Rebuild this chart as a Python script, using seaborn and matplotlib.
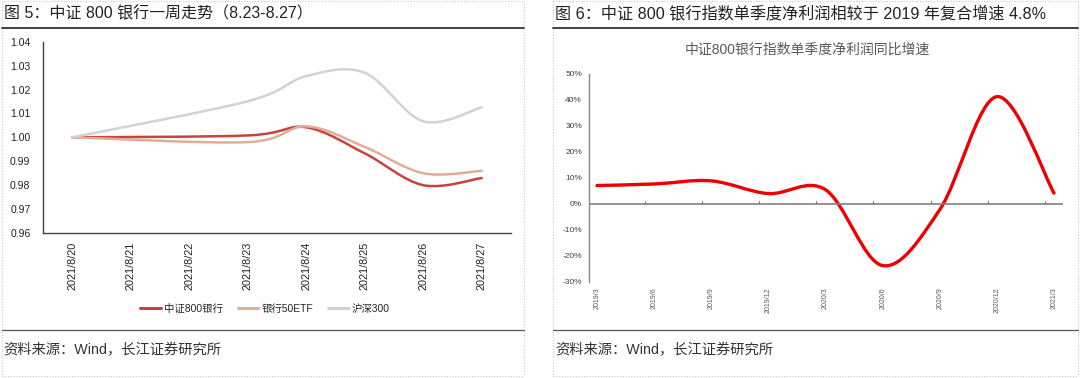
import numpy as np
import matplotlib
matplotlib.use("Agg")
import matplotlib.pyplot as plt
import seaborn as sns
from matplotlib.path import Path
from matplotlib.patches import PathPatch
from matplotlib.lines import Line2D

# ---- data: figure 5 (one-week trend, normalised) ----
axis_dates = ['2021/8/20', '2021/8/21', '2021/8/22', '2021/8/23',
              '2021/8/24', '2021/8/25', '2021/8/26', '2021/8/27']
trade_dates = ['2021/8/20', '2021/8/23', '2021/8/24', '2021/8/25', '2021/8/26', '2021/8/27']
csi800_bank = [1.000, 1.0008, 1.0042, 0.9933, 0.9800, 0.9830]
bank50_etf = [1.000, 0.9980, 1.0046, 0.9960, 0.9850, 0.9860]
hs300 = [1.000, 1.0151, 1.0256, 1.0270, 1.0067, 1.0126]
left_names = ['中证800银行', '银行50ETF', '沪深300']
left_colors = ['#C8423F', '#DFAE96', '#D3D1D1']

# ---- data: figure 6 (quarterly net profit yoy growth, %) ----
quarters = ['2019/3', '2019/6', '2019/9', '2019/12', '2020/3',
            '2020/6', '2020/9', '2020/12', '2021/3']
profit_yoy = [7.1, 7.7, 8.9, 4.0, 5.5, -23.7, -2.2, 41.3, 4.2]

title_left = '图 5：中证 800 银行一周走势（8.23-8.27）'
title_right = '图 6：中证 800 银行指数单季度净利润相较于 2019 年复合增速 4.8%'
inner_title = '中证800银行指数单季度净利润同比增速'
source_text = '资料来源：Wind，长江证券研究所'

sns.set_theme(style="white")
plt.rcParams['font.family'] = ['Liberation Sans', 'Noto Sans CJK SC', 'DejaVu Sans']


def smooth_path(xs, ys):
    # Excel-like smoothed line: cubic bezier through every data point
    pts = np.column_stack([xs, ys]).astype(float)
    n = len(pts)
    verts = [pts[0]]
    codes = [Path.MOVETO]
    for i in range(n - 1):
        p0 = pts[max(i - 1, 0)]
        p1 = pts[i]
        p2 = pts[i + 1]
        p3 = pts[min(i + 2, n - 1)]
        verts += [p1 + (p2 - p0) / 6, p2 - (p3 - p1) / 6, p2]
        codes += [Path.CURVE4] * 3
    return Path(verts, codes)


fig = plt.figure(figsize=(10.8, 3.78), dpi=100)
W, H = 1080, 378


def fx(px):
    return px / W


def fy(py):
    return 1 - py / H


# ---- frame decorations ----
dot = dict(color='#C8C8C8', lw=0.8, ls=(0, (1, 1.5)), transform=fig.transFigure)
for x0, x1 in [(2, 524), (553, 1078)]:
    fig.add_artist(Line2D([fx(x0), fx(x1)], [fy(1), fy(1)], **dot))
    fig.add_artist(Line2D([fx(x0), fx(x1)], [fy(376), fy(376)], **dot))
    fig.add_artist(Line2D([fx(x0), fx(x0)], [fy(1), fy(376)], **dot))
    fig.add_artist(Line2D([fx(x1), fx(x1)], [fy(1), fy(376)], **dot))
    fig.add_artist(Line2D([fx(x0), fx(x1)], [fy(27.5), fy(27.5)], color='#333333', lw=1.3,
                          transform=fig.transFigure))
    fig.add_artist(Line2D([fx(x0), fx(x1)], [fy(330), fy(330)], color='#555555', lw=0.9,
                          transform=fig.transFigure))

fig.text(fx(4), fy(13), title_left, fontsize=11.5, color='#222222', va='center', ha='left')
fig.text(fx(555), fy(13), title_right, fontsize=11.6, color='#222222', va='center', ha='left')
fig.text(fx(3), fy(350), source_text, fontsize=10.3, color='#333333', va='center', ha='left')
fig.text(fx(555), fy(350), source_text, fontsize=10.3, color='#333333', va='center', ha='left')

# ---- left chart ----
ax1 = fig.add_axes([fx(43), fy(233), fx(511 - 43), (233 - 41.7) / H])
xpos = [axis_dates.index(d) for d in trade_dates]
for vals, name, col in zip([csi800_bank, bank50_etf, hs300], left_names, left_colors):
    ax1.add_patch(PathPatch(smooth_path(xpos, vals), facecolor='none', edgecolor=col, lw=1.8,
                            capstyle='round', joinstyle='round'))
ax1.set_xlim(-0.5, 7.5)
ax1.set_ylim(0.96, 1.04)
ax1.set_yticks(np.round(np.arange(0.96, 1.0401, 0.01), 2))
ax1.set_yticklabels([f'{v:.2f}' for v in np.arange(0.96, 1.0401, 0.01)])
ax1.set_xticks(range(len(axis_dates)))
ax1.set_xticklabels(axis_dates, rotation=90, va='top', ha='center')
ax1.set_xticks(np.arange(0.5, 7.5, 1), minor=True)
ax1.tick_params(axis='x', which='major', length=0, pad=6, labelsize=7.8, colors='#222222')
ax1.tick_params(axis='x', which='minor', length=3, direction='in', color='#555555', width=0.8)
ax1.tick_params(axis='y', length=3, direction='in', pad=9, labelsize=7.5, color='#555555',
                labelcolor='#222222', width=0.8)
sns.despine(ax=ax1)
for s in ['left', 'bottom']:
    ax1.spines[s].set_color('#444444')
    ax1.spines[s].set_linewidth(1.0)

handles = [Line2D([], [], color=c, lw=2.2) for c in left_colors]
fig.legend(handles, left_names, loc='center', bbox_to_anchor=(fx(265), fy(309)), ncol=3,
           frameon=False, fontsize=7.5, handlelength=2.0, handletextpad=0.3, columnspacing=1.4)

# ---- right chart ----
ax2 = fig.add_axes([fx(589), fy(282), fx(1063 - 589), (282 - 74) / H])
qpos = np.arange(len(quarters))
ax2.add_patch(PathPatch(smooth_path(qpos, profit_yoy), facecolor='none', edgecolor='#EE0000',
                        lw=2.4, capstyle='round', joinstyle='round'))
ax2.axhline(0, color='#808080', lw=1.2, zorder=1)
ax2.set_xlim(-8 / 57.1, 8 + 9 / 57.1)
ax2.set_ylim(-30, 50)
ax2.set_yticks(np.arange(-30, 51, 10))
ax2.set_yticklabels([f'{v}%' for v in range(-30, 51, 10)])
ax2.set_xticks(qpos)
ax2.set_xticklabels(quarters, rotation=90, va='top', ha='center')
ax2.tick_params(axis='x', which='major', length=0, pad=4, labelsize=5, colors='#595959')
ax2.tick_params(axis='y', length=3, direction='in', pad=5, labelsize=6, color='#888888',
                labelcolor='#404040', width=0.8)
sns.despine(ax=ax2, bottom=True)
ax2.spines['left'].set_color('#888888')
ax2.spines['left'].set_linewidth(1.0)
# small category marks sitting on the zero line
for q in qpos[:-1]:
    ax2.plot([q + 0.84, q + 0.84], [0, 1.2], color='#808080', lw=0.8)

fig.text(fx(807), fy(50), inner_title, fontsize=10, color='#595959', va='center', ha='center')

fig.savefig('out.png', dpi=100, facecolor='white')
